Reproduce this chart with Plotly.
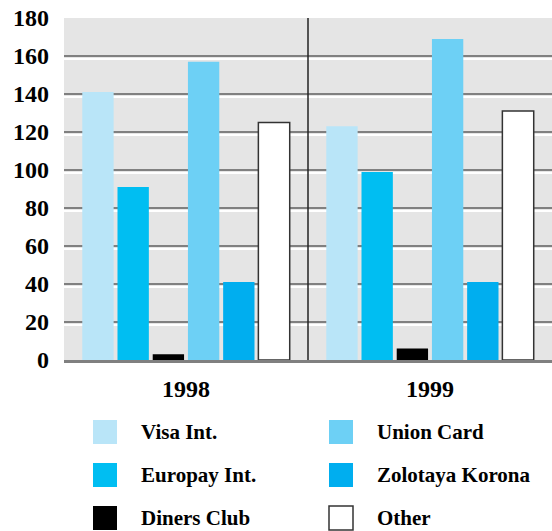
import plotly.graph_objects as go

years = ["1998", "1999"]
series = ["Visa Int.", "Europay Int.", "Diners Club", "Union Card", "Zolotaya Korona", "Other"]
visa = [141, 123]
europay = [91, 99]
diners = [3, 6]
union = [157, 169]
zolotaya = [41, 41]
other = [125, 131]
values = [visa, europay, diners, union, zolotaya, other]
y_ticks = [0, 20, 40, 60, 80, 100, 120, 140, 160, 180]

colors = ["#b9e5f8", "#00bef2", "#000000", "#6dd0f5", "#00aeef", "#ffffff"]
outline = [None, None, None, None, None, "#333333"]

W, H = 552, 531
ML, MR, MT, MB = 64, 0, 18, 171
PW, PH = W - ML - MR, H - MT - MB
YMAX = 180
unit_per_px = YMAX / PH

FONT = "Liberation Serif"

fig = go.Figure()
for name, vals, col, oc in zip(series, values, colors, outline):
    fig.add_trace(go.Bar(
        x=years, y=vals, name=name, showlegend=False,
        marker=dict(color=col, line=dict(color=oc or col, width=1.5 if oc else 0)),
    ))

shapes = []
for t in y_ticks[1:-1]:
    shapes.append(dict(type="line", xref="paper", yref="y", x0=0, x1=1, y0=t, y1=t,
                       line=dict(color="#808080", width=2), layer="below"))
    shapes.append(dict(type="line", xref="paper", yref="y", x0=0, x1=1,
                       y0=t - 3 * unit_per_px, y1=t - 3 * unit_per_px,
                       line=dict(color="#ffffff", width=2), layer="below"))
# divider between the two year groups
shapes.append(dict(type="line", xref="x", yref="paper", x0=0.5, x1=0.5, y0=0, y1=1,
                   line=dict(color="#222222", width=1.5), layer="below"))

# manual legend (2 columns, row-major); pixel positions in page coordinates
legend_order = ["Visa Int.", "Union Card", "Europay Int.", "Zolotaya Korona", "Diners Club", "Other"]
sw_x = [93, 329]
tx_x = [139, 375]
row_y = [432, 475, 518]
SW = 24
annotations = []

def px_x(px):
    return (px - ML) / PW

def px_y(py):
    return (MT + PH - py) / PH

for i, name in enumerate(legend_order):
    c, r = i % 2, i // 2
    idx = series.index(name)
    cy = row_y[r]
    shapes.append(dict(type="rect", xref="paper", yref="paper",
                       x0=px_x(sw_x[c]), x1=px_x(sw_x[c] + SW),
                       y0=px_y(cy + SW / 2), y1=px_y(cy - SW / 2),
                       fillcolor=colors[idx],
                       line=dict(color=outline[idx] or colors[idx], width=1.5 if outline[idx] else 0)))
    annotations.append(dict(xref="paper", yref="paper", x=px_x(tx_x[c]), y=px_y(cy),
                            xanchor="left", yanchor="middle", showarrow=False, text=name,
                            font=dict(family=FONT, size=21, color="#000", weight="bold")))

fig.update_layout(
    width=W, height=H,
    margin=dict(l=ML, r=MR, t=MT, b=MB, autoexpand=False),
    paper_bgcolor="#ffffff", plot_bgcolor="#e5e5e5",
    barmode="group", bargap=0.134, bargroupgap=0.11,
    showlegend=False,
    shapes=shapes, annotations=annotations,
    font=dict(family=FONT, color="#000"),
)
fig.update_xaxes(type="category", range=[-0.5, 1.5], showgrid=False, zeroline=False,
                 showline=True, linecolor="#808080", linewidth=3, automargin=False,
                 ticks="", ticklabelstandoff=5,
                 tickfont=dict(family=FONT, size=24, color="#000", weight="bold"))
fig.update_yaxes(range=[0, YMAX], tickvals=y_ticks, showgrid=False, zeroline=False,
                 showline=False, ticks="", ticklabelstandoff=14, automargin=False,
                 ticklabeloverflow="allow",
                 tickfont=dict(family=FONT, size=24, color="#000", weight="bold"))

fig.write_html("out.html", config={"displayModeBar": False},
               post_script="document.body.style.margin='0px';")
